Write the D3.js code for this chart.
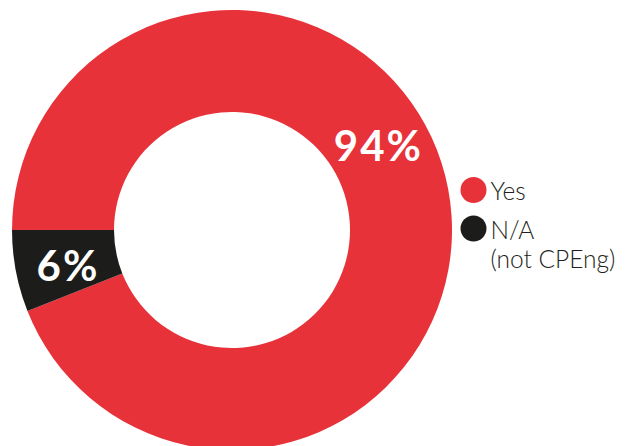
<!DOCTYPE html>
<html>
<head>
<meta charset="utf-8">
<script src="https://cdn.jsdelivr.net/npm/d3@7"></script>
<style>
  body { margin: 0; background: #fff; }
  svg { display: block; }
  .pct { font-family: "Lato", "Noto Sans", sans-serif; font-weight: 700; fill: #fff; letter-spacing: 2px; }
  .legend text { font-family: "Lato", "Noto Sans", sans-serif; font-weight: 300; fill: #231f20; }
</style>
</head>
<body>
<div id="chart"></div>
<script>
// data
var categories = ["Yes", "N/A"];
var values = [94, 6];
var labels = ["94%", "6%"];
var legendLines = [["Yes"], ["N/A", "(not CPEng)"]];
var colors = ["#e8323a", "#1c1c1a"];

var width = 627, height = 446;
var cx = 232, cy = 230;
var outerR = 220, innerR = 118;

var svg = d3.select("#chart")
    .append("svg")
    .attr("width", width)
    .attr("height", height);

var g = svg.append("g")
    .attr("transform", "translate(" + cx + "," + cy + ")");

var pie = d3.pie()
    .sort(null)
    .startAngle(-Math.PI / 2)
    .endAngle(3 * Math.PI / 2)
    .value(d => d);

var arc = d3.arc()
    .innerRadius(innerR)
    .outerRadius(outerR);

var arcs = pie(values);

g.selectAll("path")
    .data(arcs)
    .enter()
    .append("path")
    .attr("d", arc)
    .attr("fill", (d, i) => colors[i]);

// labels: the big slice label sits up at the right, the small one at its centroid
var labelArc = d3.arc().innerRadius(innerR).outerRadius(outerR);
function labelPos(d, i) {
    if (i == 0) {
        var a = Math.PI / 3;
        return labelArc.centroid({startAngle: a, endAngle: a});
    }
    return labelArc.centroid(d);
}

g.selectAll(".pct")
    .data(arcs)
    .enter()
    .append("text")
    .attr("class", "pct")
    .attr("x", (d, i) => labelPos(d, i)[0] + (i == 0 ? 0 : 2))
    .attr("y", (d, i) => labelPos(d, i)[1] + (i == 0 ? 0 : 4))
    .attr("dy", "0.36em")
    .attr("text-anchor", "middle")
    .style("font-size", "42px")
    .text((d, i) => labels[i]);

// legend
var legend = svg.append("g")
    .attr("class", "legend")
    .attr("transform", "translate(473.5,190)");

var item = legend.selectAll("g")
    .data(categories)
    .enter()
    .append("g")
    .attr("transform", (d, i) => "translate(0," + (i * 38.5) + ")");

item.append("circle")
    .attr("r", 13)
    .attr("fill", (d, i) => colors[i]);

item.each(function(d, i) {
    var t = d3.select(this).append("text")
        .attr("x", 17)
        .attr("y", 10)
        .style("font-size", "24.5px");
    legendLines[i].forEach(function(line, j) {
        t.append("tspan")
            .attr("x", 17)
            .attr("dy", j == 0 ? 0 : 29)
            .text(line);
    });
});
</script>
</body>
</html>
